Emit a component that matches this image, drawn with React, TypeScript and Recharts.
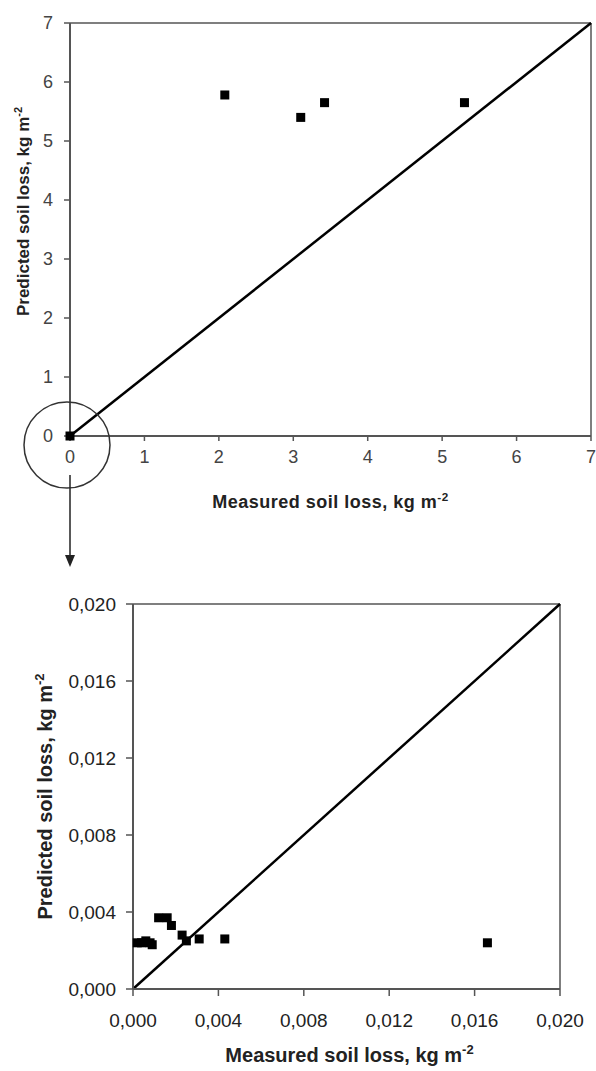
import React from "react";
import {
  ScatterChart,
  Scatter,
  XAxis,
  YAxis,
  ReferenceLine,
  ReferenceDot,
} from "recharts";

// Full-range panel (kg m-2)
const topMeasured = [0, 2.08, 3.1, 3.42, 5.3];
const topPredicted = [0, 5.78, 5.4, 5.65, 5.65];
const topTicks = [0, 1, 2, 3, 4, 5, 6, 7];

// Zoomed panel near origin (kg m-2)
const zoomMeasured = [0.0002, 0.0004, 0.0006, 0.0008, 0.0009, 0.0012, 0.0016, 0.0018, 0.0023, 0.0025, 0.0031, 0.0043, 0.0166];
const zoomPredicted = [0.0024, 0.0024, 0.0025, 0.0024, 0.0023, 0.0037, 0.0037, 0.0033, 0.0028, 0.0025, 0.0026, 0.0026, 0.0024];
const zoomTicks = [0, 0.004, 0.008, 0.012, 0.016, 0.02];

const xTitle = "Measured soil loss, kg m";
const yTitle = "Predicted soil loss, kg m";
const unitSup = "-2";

const topData = topMeasured.map((x, i) => ({ x, y: topPredicted[i] }));
const zoomData = zoomMeasured.map((x, i) => ({ x, y: zoomPredicted[i] }));

const FONT = "'Liberation Sans', Arial, Helvetica, sans-serif";
const AXIS = "#555";

const Square = (props: any) => {
  const { cx, cy } = props;
  if (cx == null || cy == null) return null;
  return <rect x={cx - 4.5} y={cy - 4.5} width={9} height={9} fill="#000" />;
};

const Title = ({ x, y, text, size, rotate, spacing }: any) => (
  <text
    x={x}
    y={y}
    textAnchor="middle"
    fontFamily={FONT}
    fontWeight="bold"
    fontSize={size}
    fill="#222"
    letterSpacing={spacing || 0}
    transform={rotate ? `rotate(-90 ${x} ${y})` : undefined}
  >
    {text}
    <tspan dy={-size * 0.4} fontSize={size * 0.65}>
      {unitSup}
    </tspan>
  </text>
);

const Annotation = (props: any) => {
  const { cx, cy } = props;
  if (cx == null || cy == null) return null;
  return (
    <g>
      <circle cx={cx - 3} cy={cy + 9} r={43} fill="none" stroke="#333" strokeWidth={1.5} />
      <line x1={cx} y1={cy + 39} x2={cx} y2={cy + 122} stroke="#222" strokeWidth={1.5} />
      <polygon
        points={`${cx - 5},${cy + 119} ${cx + 5},${cy + 119} ${cx},${cy + 131}`}
        fill="#222"
      />
    </g>
  );
};

const fmtComma = (v: number) => v.toFixed(3).replace(".", ",");

export default function App() {
  return (
    <div
      style={{
        position: "absolute",
        left: 0,
        top: 0,
        width: 596,
        height: 1071,
        background: "#fff",
      }}
    >
      <div style={{ position: "absolute", left: 0, top: 0 }}>
        <ScatterChart
          width={596}
          height={572}
          margin={{ top: 23, right: 5, bottom: 56, left: 0 }}
        >
          <XAxis
            type="number"
            dataKey="x"
            domain={[0, 7]}
            ticks={topTicks}
            interval={0}
            height={80}
            stroke={AXIS}
            axisLine={{ stroke: AXIS, strokeWidth: 2 }}
            tickLine={{ stroke: AXIS, strokeWidth: 1.5 }}
            tickSize={5}
            tickMargin={9}
            tick={{ fill: "#444", fontSize: 18, fontFamily: FONT }}
            label={{
              content: (p: any) => {
                const vb = p.viewBox;
                return <Title x={vb.x + vb.width / 2} y={vb.y + 72} text={xTitle} size={18} spacing={0.5} />;
              },
            }}
          />
          <YAxis
            type="number"
            dataKey="y"
            domain={[0, 7]}
            ticks={topTicks}
            interval={0}
            width={70}
            stroke={AXIS}
            axisLine={{ stroke: AXIS, strokeWidth: 2 }}
            tickLine={{ stroke: AXIS, strokeWidth: 1.5 }}
            tickSize={6}
            tickMargin={11}
            tick={{ fill: "#444", fontSize: 18, fontFamily: FONT }}
            label={{
              content: (p: any) => {
                const vb = p.viewBox;
                return <Title x={29} y={vb.y + vb.height / 2 - 18} text={yTitle} size={17} rotate />;
              },
            }}
          />
          <ReferenceLine y={7} stroke={AXIS} strokeWidth={1.5} ifOverflow="visible" />
          <ReferenceLine x={7} stroke={AXIS} strokeWidth={1.5} ifOverflow="visible" />
          <ReferenceLine
            segment={[
              { x: 0, y: 0 },
              { x: 7, y: 7 },
            ]}
            stroke="#000"
            strokeWidth={2.5}
            ifOverflow="visible"
          />
          <Scatter data={topData} fill="#000" shape={Square} isAnimationActive={false} />
          <ReferenceDot x={0} y={0} ifOverflow="visible" shape={Annotation} />
        </ScatterChart>
      </div>
      <div style={{ position: "absolute", left: 0, top: 572 }}>
        <ScatterChart
          width={596}
          height={499}
          margin={{ top: 32, right: 36, bottom: 0, left: 0 }}
        >
          <XAxis
            type="number"
            dataKey="x"
            domain={[0, 0.02]}
            ticks={zoomTicks}
            interval={0}
            height={82}
            stroke={AXIS}
            axisLine={{ stroke: AXIS, strokeWidth: 2 }}
            tickLine={{ stroke: AXIS, strokeWidth: 1.5 }}
            tickSize={7}
            tickMargin={18}
            tickFormatter={fmtComma}
            tick={{ fill: "#222", fontSize: 19, fontFamily: FONT }}
            label={{
              content: (p: any) => {
                const vb = p.viewBox;
                return <Title x={vb.x + vb.width / 2 + 3} y={vb.y + 73} text={xTitle} size={20} />;
              },
            }}
          />
          <YAxis
            type="number"
            dataKey="y"
            domain={[0, 0.02]}
            ticks={zoomTicks}
            interval={0}
            width={133}
            stroke={AXIS}
            axisLine={{ stroke: AXIS, strokeWidth: 2 }}
            tickLine={{ stroke: AXIS, strokeWidth: 1.5 }}
            tickSize={7}
            tickMargin={10}
            tickFormatter={fmtComma}
            tick={{ fill: "#222", fontSize: 19, fontFamily: FONT }}
            label={{
              content: (p: any) => {
                const vb = p.viewBox;
                return <Title x={52} y={vb.y + vb.height / 2} text={yTitle} size={20} rotate />;
              },
            }}
          />
          <ReferenceLine y={0.02} stroke={AXIS} strokeWidth={1.5} ifOverflow="visible" />
          <ReferenceLine x={0.02} stroke={AXIS} strokeWidth={1.5} ifOverflow="visible" />
          <ReferenceLine
            segment={[
              { x: 0, y: 0 },
              { x: 0.02, y: 0.02 },
            ]}
            stroke="#000"
            strokeWidth={2.5}
            ifOverflow="visible"
          />
          <Scatter data={zoomData} fill="#000" shape={Square} isAnimationActive={false} />
        </ScatterChart>
      </div>
    </div>
  );
}
